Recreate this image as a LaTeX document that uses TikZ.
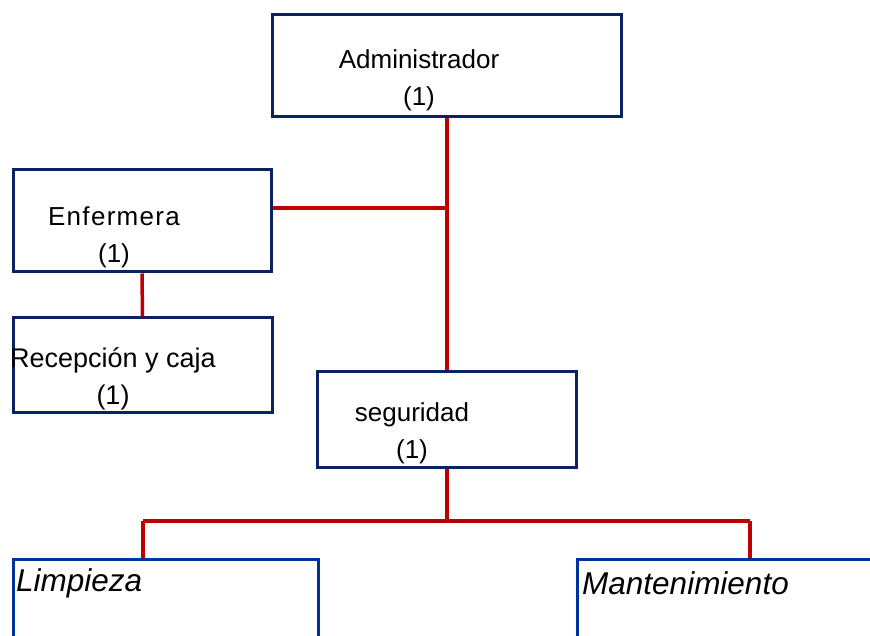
\documentclass[tikz,border=0pt]{standalone}
\usepackage{fontspec}
\setmainfont{Liberation Sans}
\definecolor{boxnavy}{HTML}{0B2161}
\definecolor{boxblue}{HTML}{003399}
\definecolor{linkred}{HTML}{C00000}
\tikzset{
  unit/.style={draw=boxnavy,line width=3pt,rectangle,inner sep=0pt},
  lowunit/.style={draw=boxblue,line width=3pt,rectangle,inner sep=0pt},
  unitname/.style={align=center,font=\fontsize{26}{37}\selectfont},
  lowname/.style={anchor=west,inner sep=0pt,font=\fontsize{31.5}{36}\selectfont\itshape},
  link/.style={draw=linkred,line width=3.5pt}
}
\begin{document}
\begin{tikzpicture}[x=1pt,y=-1pt]
        \useasboundingbox (0,0) rectangle (870,636);
        \clip (0,0) rectangle (870,636);
        %% boxes
        \node[unit,minimum width=349,minimum height=102] (admin) at (447,66) {};
        \node[unit,minimum width=258,minimum height=102] (enf) at (142,221) {};
        \node[unit,minimum width=259,minimum height=94] (recep) at (142.5,365) {};
        \node[unit,minimum width=259,minimum height=96] (seg) at (447,419) {};
        \node[lowunit,minimum width=305,minimum height=162] (limp) at (165.5,640) {};
        \node[lowunit,minimum width=350,minimum height=162] (mant) at (752,640) {};
        %% names
        \node[unitname] (admintext) at (419,80) {Administrador\\(1)};
        \node[unitname] (enftext) at (114,237) {\addfontfeature{LetterSpace=5}Enfermera\\(1)};
        \node[unitname,font=\fontsize{27}{37}\selectfont] (receptext) at (113,379) {Recepción y caja\\(1)};
        \node[unitname] (segtext) at (412,433) {seguridad\\(1)};
        \node[lowname] (limptext) at (16,583) {Limpieza};
        \node[lowname] (manttext) at (582,583) {Mantenimiento};
        %% links
        \coordinate (j1) at (447,208);
        \coordinate (lb) at (143,521);
        \coordinate (mb) at (750,521);
        \draw[link] (admin.south) -- (seg.north);
        \draw[link] (enf.east |- j1) -- (j1);
        \draw[link] (enf.south) -- (recep.north);
        \draw[link] (seg.south) -- (seg.south |- lb);
        \draw[link] (lb) -- (mb);
        \draw[link] (lb) -- (lb |- limp.north);
        \draw[link] (mb) -- (mb |- mant.north);
    \end{tikzpicture}
\end{document}
